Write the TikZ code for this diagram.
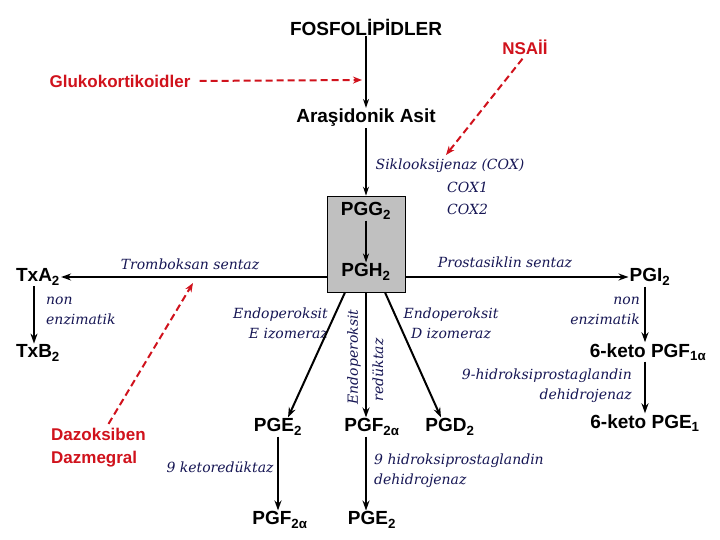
\documentclass[tikz,border=0pt]{standalone}
\usepackage{fontspec}
\setmainfont{Liberation Serif}
\setsansfont{Liberation Sans}
\newfontfamily\enzfont{DejaVu Serif}
\usetikzlibrary{arrows.meta}
\definecolor{InhRed} {RGB}{208,18,28}
\definecolor{EnzBlue}{RGB}{22,22,84}
\definecolor{BoxFill}{RGB}{192,192,192}
\tikzset{
  nd_mol/.style={font=\sffamily\bfseries\fontsize{19}{21}\selectfont,inner sep=1pt},
  nd_drug/.style={font=\sffamily\bfseries\fontsize{17}{23}\selectfont,text=InhRed,inner sep=1pt,align=left},
  nd_enz/.style={font=\enzfont\itshape\fontsize{14}{20}\selectfont,text=EnzBlue,inner sep=1pt},
  nd_box/.style={rectangle,draw=black,fill=BoxFill,line width=0.8pt,minimum width=78pt,minimum height=96pt,inner sep=0pt},
  arr/.style={-{Stealth[length=10pt,width=7pt]},line width=2pt},
  arr_thin/.style={-{Stealth[length=9pt,width=6pt]},line width=1.2pt},
  arr_inh/.style={-{Stealth[length=9pt,width=7pt]},draw=InhRed,line width=2pt,dash pattern=on 7pt off 4pt},
}
\begin{document}
\begin{tikzpicture}[x=1pt,y=1pt]
\useasboundingbox (0,0) rectangle (720,-540);
% top
\node[nd_mol]  at (366,-27)(fosfo){FOSFOLİPİDLER};
\node[nd_drug] at (525,-47)(nsai){NSAİİ};
\node[nd_drug] at (120,-81)(gluko){Glukokortikoidler};
\node[nd_mol]  at (366,-118)(arasi){Araşidonik Asit};
\coordinate (gluko_end) at (362,-80);
\coordinate (nsai_end) at (446,-155);
% COX
\node[nd_enz] at (450,-166)(cox){Siklooksijenaz (COX)};
\node[nd_enz,anchor=west] at (446,-187)(cox1){COX1};
\node[nd_enz,anchor=west] at (446,-209)(cox2){COX2};
\node[nd_box] at (366,-244)(box){};
\node[nd_mol] at (366,-211)(pgg2){PGG\textsubscript{2}};
\node[nd_mol] at (366,-272)(pgh2){PGH\textsubscript{2}};
% left
\node[nd_enz] at (190,-264)(tromb){Tromboksan sentaz};
\node[nd_mol] at (38,-277)(txa2){TxA\textsubscript{2}};
\node[nd_enz,anchor=west,align=left] at (45,-311)(non_l){non\\enzimatik};
\node[nd_mol] at (38,-353)(txb2){TxB\textsubscript{2}};
\node[nd_drug,anchor=west] at (50,-448)(dazo){Dazoksiben\\Dazmegral};
\coordinate (dazo_end) at (193,-283);
% right
\node[nd_enz] at (505,-262)(prost){Prostasiklin sentaz};
\node[nd_mol] at (650,-277)(pgi2){PGI\textsubscript{2}};
\node[nd_enz,anchor=east,align=right] at (641,-311)(non_r){non\\enzimatik};
\node[nd_mol] at (648,-352)(keto_f){6-keto PGF\textsubscript{1α}};
\node[nd_enz,anchor=east,align=right] at (633,-386)(hidro_r){9-hidroksiprostaglandin\\dehidrojenaz};
\node[nd_mol] at (645,-423)(keto_e){6-keto PGE\textsubscript{1}};
% bottom
\node[nd_enz,anchor=east,align=right] at (329,-323)(endo_e){Endoperoksit\\E izomeraz};
\node[nd_enz,align=center] at (451,-323)(endo_d){Endoperoksit\\D izomeraz};
\node[nd_enz,rotate=90] at (354,-357)(endo_r1){Endoperoksit};
\node[nd_enz,rotate=90] at (378,-370)(endo_r2){redüktaz};
\node[nd_mol] at (278,-427)(pge2){PGE\textsubscript{2}};
\node[nd_mol] at (372,-427)(pgf2a){PGF\textsubscript{2α}};
\node[nd_mol] at (450,-427)(pgd2){PGD\textsubscript{2}};
\node[nd_enz] at (220,-467)(ketored){9 ketoredüktaz};
\node[nd_enz,anchor=west,align=left] at (373,-471)(hidro_b){9 hidroksiprostaglandin\\dehidrojenaz};
\node[nd_mol] at (280,-520)(pgf2a_low){PGF\textsubscript{2α}};
\node[nd_mol] at (372,-520)(pge2_low){PGE\textsubscript{2}};
% arrows
\draw[arr_thin](fosfo)--(arasi);
\draw[arr_thin](arasi)--(box.north);
\draw[arr_thin](pgg2)--(pgh2);
\draw[arr_inh,shorten <=8pt](gluko.east)--(gluko_end);
\draw[arr_inh,shorten <=4pt](nsai.south)--(nsai_end);
\draw[arr_inh,shorten <=4pt]([xshift=8pt]dazo.north)--(dazo_end);
\draw[arr](box.west |- txa2)--(txa2);
\draw[arr](box.east |- pgi2)--(pgi2);
\draw[arr]([xshift=-4pt]txa2.south)--([xshift=-4pt]txa2.south |- txb2.north);
\draw[arr]([xshift=-5pt]pgi2.south)--([xshift=-5pt]pgi2.south |- keto_f.north);
\draw[arr]([xshift=-3pt]keto_f.south)--([xshift=-3pt]keto_f.south |- keto_e.north);
\draw[arr]([xshift=-21pt]box.south)--([xshift=10pt]pge2.north);
\draw[arr](box.south)--(box.south |- pgf2a.north);
\draw[arr]([xshift=19pt]box.south)--([xshift=-9pt]pgd2.north);
\draw[arr](pge2.south)--(pge2.south |- pgf2a_low.north);
\draw[arr]([xshift=-6pt]pgf2a.south)--([xshift=-6pt]pgf2a.south |- pge2_low.north);
\end{tikzpicture}
\end{document}
